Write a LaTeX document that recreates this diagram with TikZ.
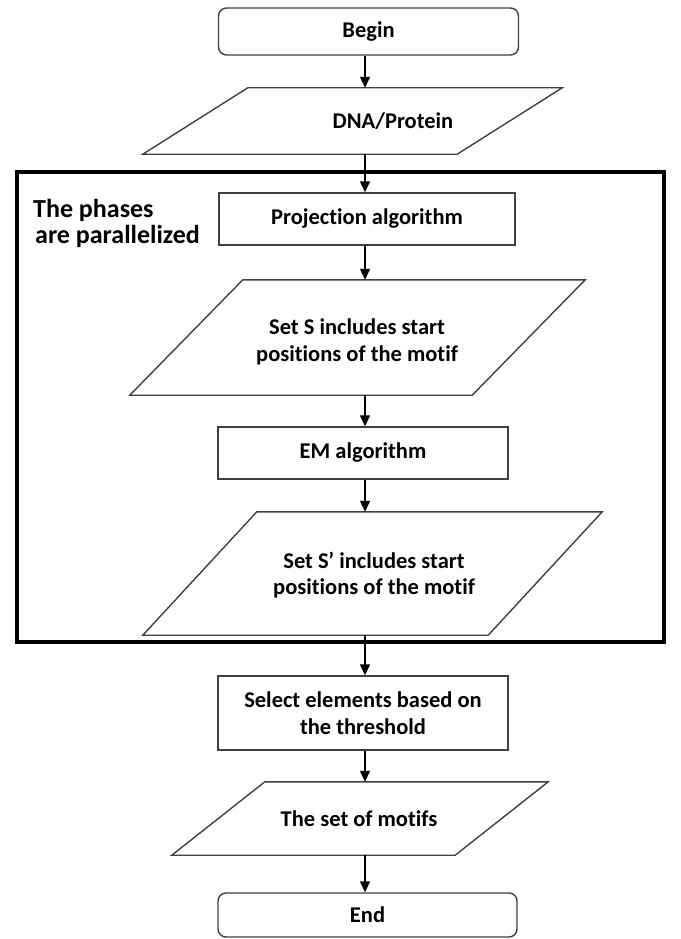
\documentclass[tikz,border=0pt]{standalone}
\usepackage{fontspec}
\setmainfont{Carlito}[Ligatures={NoCommon,NoContextual}]
\usetikzlibrary{calc,arrows.meta}
\tikzset{
  txt/.style={font=\fontsize{22.5}{26.5}\selectfont\bfseries, text=black, align=center, inner sep=0pt},
  stepbox/.style={txt, draw=black!75, line width=1.4pt, rectangle},
  termbox/.style={txt, draw=black!75, line width=1.4pt, rectangle, rounded corners=8pt},
  iobox/.style={txt, rectangle},
  ioline/.style={draw=black!75, line width=1.4pt, line join=miter},
  arr/.style={draw=black, line width=1.4pt, -{Triangle[length=11pt,width=10pt]}},
  frame/.style={draw=black, line width=4pt},
  note/.style={font=\fontsize{26}{26}\selectfont\bfseries, text=black, align=left, inner sep=0pt, anchor=north west}
}
\newcommand{\paradraw}[2]{%
  \draw[ioline] ($(#1.north west)+(#2,0)$) -- (#1.north east) -- ($(#1.south east)-(#2,0)$) -- (#1.south west) -- cycle;}
\begin{document}
\begin{tikzpicture}[x=1pt,y=-1pt]
\useasboundingbox (0,0) rectangle (680,939);
\coordinate (ax) at (365,0);

\node[termbox, minimum width=300pt, minimum height=47pt] (begin) at (368.5,31.5) {Begin};

\node[iobox, minimum width=419pt, minimum height=66pt] (dna) at (352.5,121) {};
\paradraw{dna}{105}
\node[txt] (dnat) at (393,121) {DNA/Protein};

\draw[frame] (17,172) rectangle (664,642);
\node[note] (lbl) at (33,199) {The phases\\\hspace*{2pt}are parallelized};

\node[stepbox, minimum width=296pt, minimum height=52pt] (proj) at (367,219) {Projection algorithm};

\node[iobox, minimum width=455pt, minimum height=115pt] (sset) at (357.5,337.5) {};
\paradraw{sset}{113}
\node[txt] (ssett) at (357,342) {Set S includes start\\positions of the motif};

\node[stepbox, minimum width=290pt, minimum height=52pt] (em) at (363,453) {EM algorithm};

\node[iobox, minimum width=459pt, minimum height=123pt] (sp) at (372.5,573.5) {};
\paradraw{sp}{114}
\node[txt] (spt) at (374,575) {Set S’ includes start\\positions of the motif};

\node[stepbox, minimum width=290pt, minimum height=74pt] (sel) at (363,713) {Select elements based on\\the threshold};

\node[iobox, minimum width=376pt, minimum height=73pt] (mot) at (360,818.5) {};
\paradraw{mot}{93}
\node[txt] (mott) at (359,818.5) {The set of motifs};

\node[termbox, minimum width=299pt, minimum height=44pt] (end) at (367.5,915) {End};

\draw[arr] (begin.south -| ax) -- (dna.north -| ax);
\draw[arr] (dna.south -| ax) -- (proj.north -| ax);
\draw[arr] (proj.south -| ax) -- (sset.north -| ax);
\draw[arr] (sset.south -| ax) -- (em.north -| ax);
\draw[arr] (em.south -| ax) -- (sp.north -| ax);
\draw[arr] (sp.south -| ax) -- (sel.north -| ax);
\draw[arr] (sel.south -| ax) -- (mot.north -| ax);
\draw[arr] (mot.south -| ax) -- (end.north -| ax);
\end{tikzpicture}
\end{document}
